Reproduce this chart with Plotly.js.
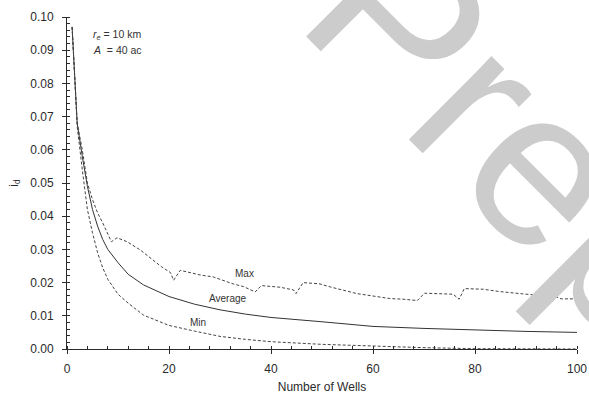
<!DOCTYPE html>
<html>
<head>
<meta charset="utf-8">
<script src="https://cdn.plot.ly/plotly-3.0.1.min.js"></script>
<style>html,body{margin:0;padding:0;background:#fff;}#chart{width:589px;height:397px;}</style>
</head>
<body>
<div id="chart"></div>
<script>
var avgWells = [1,2,3,4,5,6,7,8,10,12,15,20,25,30,35,40,50,60,70,80,90,100];
var avgId    = [0.097,0.068,0.058,0.049,0.042,0.037,0.033,0.030,0.026,0.0225,0.0193,0.0158,0.0135,0.0118,0.0105,0.0095,0.0082,0.0068,0.0062,0.0057,0.0053,0.0050];

var minWells = [1,2,3,4,5,6,7,8,10,12,15,20,25,30,35,40,50,60,70,80,90,100];
var minId    = [0.097,0.067,0.054,0.042,0.035,0.029,0.0245,0.021,0.0165,0.0138,0.0102,0.0071,0.0054,0.0038,0.0029,0.0022,0.0014,0.0008,0.0004,0.0001,0.0,0.0];

var maxWells = [1,2,3,4,5,6,7,8,8.7,9.8,11.8,14.4,16.5,18.5,20.3,20.9,22.2,26.1,28.7,32.6,34.6,36.9,38.1,41.8,44.4,44.9,46.3,49.6,51.6,54.2,56.8,60.7,63.3,65.9,68.7,70.1,75.7,76.9,77.9,81.6,84.8,89.4,92.7,95.9,96.9,100];
var maxId    = [0.097,0.068,0.060,0.050,0.045,0.041,0.038,0.0345,0.0323,0.0335,0.0323,0.0298,0.0272,0.0248,0.0230,0.0207,0.0237,0.0223,0.0217,0.0196,0.0188,0.0172,0.0191,0.0186,0.0178,0.0167,0.0200,0.0196,0.0187,0.0177,0.0167,0.0158,0.0152,0.0150,0.0146,0.0168,0.0165,0.0150,0.0182,0.0180,0.0173,0.0166,0.0161,0.0157,0.0151,0.0151];

var curveLabels = ["Max", "Average", "Min"];
var paramLabels = ["<i>r</i><sub><i>e</i></sub> = 10 km", "<i>A</i>  = 40 ac"];
var watermark = "Preprint";

var font = "Liberation Sans, Arial, sans-serif";
var ink = "#2a2a2a";

var traces = [
  {x: avgWells, y: avgId, mode: "lines", line: {color: "#333", width: 1}, hoverinfo: "skip"},
  {x: maxWells, y: maxId, mode: "lines", line: {color: "#444", width: 1, dash: "3px,2px"}, hoverinfo: "skip"},
  {x: minWells, y: minId, mode: "lines", line: {color: "#444", width: 1, dash: "3px,2px"}, hoverinfo: "skip"}
];

var axisCommon = {
  showgrid: false, zeroline: false, showline: true, linecolor: ink, linewidth: 1,
  tickcolor: ink, tickwidth: 1, ticks: "outside", ticklen: 4,
  tickfont: {family: font, size: 12, color: ink}
};

var layout = {
  width: 589, height: 397,
  margin: {l: 66.5, r: 11.5, t: 17, b: 48, pad: 0},
  paper_bgcolor: "#fff", plot_bgcolor: "#fff",
  showlegend: false,
  font: {family: font, size: 12, color: ink},
  xaxis: Object.assign({}, axisCommon, {
    range: [0, 100], dtick: 20, tick0: 0, ticklabelstandoff: 5,
    minor: {dtick: 4, ticks: "inside", ticklen: 3, tickcolor: ink},
    title: {text: "Number of Wells", font: {family: font, size: 12, color: ink}, standoff: 7}
  }),
  yaxis: Object.assign({}, axisCommon, {
    range: [0, 0.1], dtick: 0.01, tick0: 0, tickformat: ".2f", ticklabelstandoff: 6,
    minor: {dtick: 0.002, ticks: "inside", ticklen: 3, tickcolor: ink},
    title: {text: "i<sub>d</sub>", font: {family: font, size: 12, color: ink}, standoff: 9}
  }),
  xaxis2: {overlaying: "x", anchor: "y", side: "bottom", range: [0, 100], dtick: 20, tick0: 0,
    ticks: "inside", ticklen: 4, tickcolor: ink, showticklabels: false, showline: false, showgrid: false, zeroline: false},
  yaxis2: {overlaying: "y", anchor: "x", side: "left", range: [0, 0.1], dtick: 0.01, tick0: 0,
    ticks: "inside", ticklen: 4, tickcolor: ink, showticklabels: false, showline: false, showgrid: false, zeroline: false},
  annotations: [
    {x: 34.9, y: 0.0226, xref: "x", yref: "y", text: curveLabels[0], showarrow: false, font: {family: font, size: 10, color: "#333"}},
    {x: 31.6, y: 0.0151, xref: "x", yref: "y", text: curveLabels[1], showarrow: false, font: {family: font, size: 10, color: "#333"}},
    {x: 25.7, y: 0.0081, xref: "x", yref: "y", text: curveLabels[2], showarrow: false, font: {family: font, size: 10, color: "#333"}},
    {x: 4.7, y: 0.0947, xref: "x", yref: "y", xanchor: "left", text: paramLabels[0], showarrow: false, font: {family: font, size: 10.5, color: "#333"}},
    {x: 4.7, y: 0.0900, xref: "x", yref: "y", xanchor: "left", text: paramLabels[1], showarrow: false, font: {family: font, size: 10.5, color: "#333"}},
    {x: 1.089, y: 0.316, xref: "paper", yref: "paper", xanchor: "center", yanchor: "middle", text: watermark, textangle: 45,
      showarrow: false, font: {family: font, size: 222, color: "#cccccc"}}
  ]
};

Plotly.newPlot("chart", traces, layout, {staticPlot: true, displayModeBar: false});
</script>
</body>
</html>
